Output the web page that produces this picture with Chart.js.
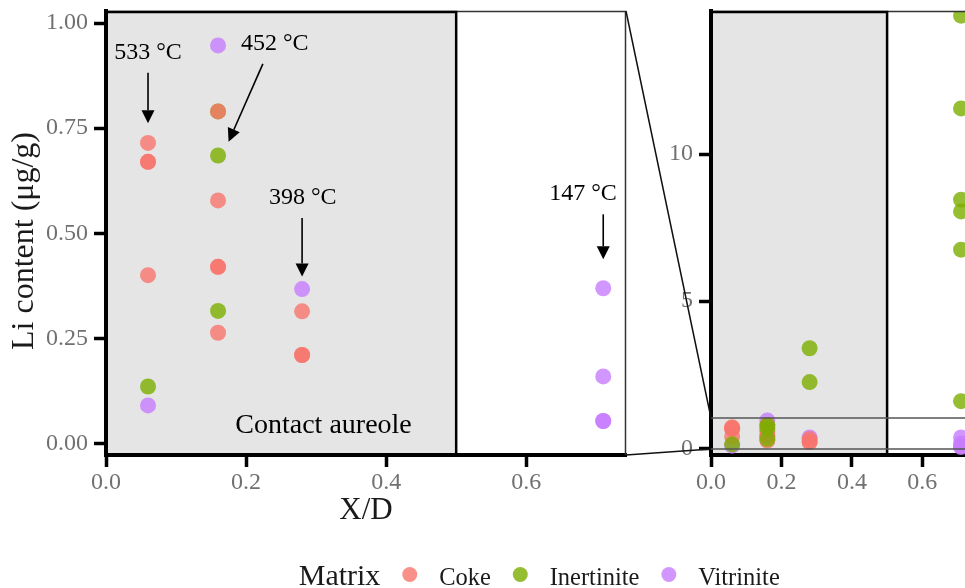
<!DOCTYPE html>
<html>
<head>
<meta charset="utf-8">
<script src="https://cdn.jsdelivr.net/npm/chart.js@4.4.1/dist/chart.umd.min.js"></script>
<style>
  html, body { margin: 0; padding: 0; background: #fff; overflow: hidden; }
  #wrap { position: relative; width: 965px; height: 588px; overflow: hidden; background: #fff; }
  #wrap canvas { position: absolute; left: 0; top: 0; }
</style>
</head>
<body>
<div id="wrap">
  <canvas id="main" width="965" height="588"></canvas>
  <canvas id="inset" width="1000" height="588"></canvas>
</div>
<script>
// ---- Li content by matrix type versus distance ratio X/D ----
const matrices = ['Coke', 'Inertinite', 'Vitrinite'];

const cokeX = [0.06, 0.06, 0.06, 0.06, 0.16, 0.16, 0.16, 0.16, 0.16, 0.28, 0.28, 0.28];
const cokeY = [0.715, 0.67, 0.67, 0.40, 0.79, 0.578, 0.42, 0.42, 0.263, 0.314, 0.21, 0.21];

const inertiniteX = [0.06, 0.16, 0.16, 0.16, 0.28, 0.28, 0.71, 0.71, 0.71, 0.71, 0.71, 0.71];
const inertiniteY = [0.135, 0.79, 0.685, 0.315, 3.4, 2.25, 14.7, 11.55, 8.45, 8.05, 6.75, 1.6];

const vitriniteX = [0.06, 0.16, 0.28, 0.71, 0.71, 0.71, 0.71];
const vitriniteY = [0.09, 0.947, 0.367, 0.369, 0.159, 0.053, 0.053];

// tick labels
const xTicks = [0, 0.2, 0.4, 0.6];
const mainYTicks = [0, 0.25, 0.5, 0.75, 1.0];
const insetYTicks = [0, 5, 10];

// axis ranges
const xRange = [0, 0.7425];
const mainYRange = [-0.028, 1.029];
const insetYRange = [-0.228, 14.86];

// contact aureole extends to X/D = 0.5
const aureoleEnd = 0.5;

// temperature call-outs (data units of the main panel)
const tempText  = ['533 °C', '452 °C', '398 °C', '147 °C'];
const tempTextX = [0.06, 0.241, 0.281, 0.681];
const tempTextY = [0.915, 0.936, 0.570, 0.579];
const tempFromX = [0.06, 0.224, 0.28, 0.71];
const tempFromY = [0.882, 0.903, 0.536, 0.545];
const tempToX   = [0.06, 0.175, 0.28, 0.71];
const tempToY   = [0.762, 0.718, 0.397, 0.438];

// ---- styling ----
const serif = "'Liberation Serif', 'Times New Roman', serif";
Chart.defaults.font.family = serif;
const fill = ['rgba(248,118,109,0.8)', 'rgba(124,174,0,0.8)', 'rgba(199,124,255,0.8)'];
const panelGrey = '#E5E5E5';
const tickGrey = '#707070';
const ink = '#1a1a1a';

const seriesX = [cokeX, inertiniteX, vitriniteX];
const seriesY = [cokeY, inertiniteY, vitriniteY];

function makeDatasets(order) {
  return matrices.map((name, i) => ({
    label: name,
    data: seriesX[i].map((x, k) => ({ x: x, y: seriesY[i][k] })),
    backgroundColor: fill[i],
    borderWidth: 0,
    pointRadius: 8,
    pointHoverRadius: 8,
    clip: 0,
    order: order[i]
  }));
}

function resetPad(s) {
  s.paddingLeft = 0; s.paddingRight = 0; s.paddingTop = 0; s.paddingBottom = 0;
}

function xScale(title) {
  return {
    type: 'linear', bounds: 'data', min: xRange[0], max: xRange[1],
    afterBuildTicks: s => { s.ticks = xTicks.map(v => ({ value: v })); },
    afterFit: s => { s.height = 133; resetPad(s); },
    ticks: { callback: v => Number(v).toFixed(1), font: { size: 24 }, color: tickGrey, padding: 1, autoSkip: false, maxRotation: 0 },
    grid: { display: true, drawOnChartArea: false, drawTicks: true, tickLength: 12, tickWidth: 3.5, tickColor: '#000' },
    border: { display: true, color: '#000', width: 4 },
    title: title
  };
}

function yScale(range, ticks, fmt, width) {
  return {
    type: 'linear', bounds: 'data', min: range[0], max: range[1],
    afterBuildTicks: s => { s.ticks = ticks.map(v => ({ value: v })); },
    afterFit: s => { s.width = width; resetPad(s); },
    ticks: { callback: fmt, font: { size: 24 }, color: tickGrey, padding: 6, autoSkip: false },
    grid: { display: true, drawOnChartArea: false, drawTicks: true, tickLength: 12, tickWidth: 3.5, tickColor: '#000' },
    border: { display: true, color: '#000', width: 4 }
  };
}

function shadeAureole(chart) {
  const { ctx, chartArea: a, scales } = chart;
  const xr = scales.x.getPixelForValue(aureoleEnd);
  ctx.save();
  ctx.fillStyle = panelGrey;
  ctx.fillRect(a.left, a.top, xr - a.left, a.bottom - a.top);
  ctx.restore();
}

function drawFrame(chart) {
  const { ctx, chartArea: a, scales } = chart;
  const xr = scales.x.getPixelForValue(aureoleEnd);
  ctx.save();
  // outer panel frame (top and right)
  ctx.strokeStyle = '#333';
  ctx.lineWidth = 1.5;
  ctx.beginPath();
  ctx.moveTo(a.left, a.top + 0.5); ctx.lineTo(a.right, a.top + 0.5);
  ctx.moveTo(a.right - 0.5, a.top); ctx.lineTo(a.right - 0.5, a.bottom);
  ctx.stroke();
  // aureole box outline
  ctx.strokeStyle = '#000';
  ctx.lineWidth = 2.5;
  ctx.beginPath();
  ctx.moveTo(a.left, a.top + 1); ctx.lineTo(xr, a.top + 1); ctx.lineTo(xr, a.bottom);
  ctx.stroke();
  ctx.restore();
}

function drawArrow(ctx, x1, y1, x2, y2) {
  const ang = Math.atan2(y2 - y1, x2 - x1);
  const len = 13, half = 6.5;
  const bx = x2 - len * Math.cos(ang), by = y2 - len * Math.sin(ang);
  ctx.beginPath(); ctx.moveTo(x1, y1); ctx.lineTo(bx, by); ctx.stroke();
  ctx.beginPath();
  ctx.moveTo(x2, y2);
  ctx.lineTo(bx + half * Math.sin(ang), by - half * Math.cos(ang));
  ctx.lineTo(bx - half * Math.sin(ang), by + half * Math.cos(ang));
  ctx.closePath(); ctx.fill();
}

// ---- main panel ----
const mainChart = new Chart(document.getElementById('main'), {
  type: 'scatter',
  data: { datasets: makeDatasets([0, 1, 2]) },
  options: {
    responsive: false, animation: false, devicePixelRatio: 1,
    layout: { padding: { left: 0, top: 11, right: 339, bottom: 0 } },
    plugins: { legend: { display: false }, tooltip: { enabled: false } },
    scales: {
      x: xScale({ display: true, text: 'X/D', font: { size: 31 }, color: ink, padding: { top: 0, bottom: 59 } }),
      y: yScale(mainYRange, mainYTicks, v => Number(v).toFixed(2), 106)
    }
  },
  plugins: [{
    id: 'mainDecor',
    beforeDraw: shadeAureole,
    afterDatasetsDraw(chart) {
      drawFrame(chart);
      const { ctx, scales } = chart;
      const px = v => scales.x.getPixelForValue(v);
      const py = v => scales.y.getPixelForValue(v);
      ctx.save();
      ctx.fillStyle = '#000';
      ctx.strokeStyle = '#000';
      ctx.lineWidth = 1.6;
      ctx.textAlign = 'center';
      ctx.textBaseline = 'alphabetic';
      ctx.font = '24px ' + serif;
      tempText.forEach((t, i) => {
        ctx.fillText(t, px(tempTextX[i]), py(tempTextY[i]));
        drawArrow(ctx, px(tempFromX[i]), py(tempFromY[i]), px(tempToX[i]), py(tempToY[i]));
      });
      ctx.font = '28px ' + serif;
      ctx.fillText('Contact aureole', px(0.3106), py(0.024));
      ctx.restore();
    },
    afterDraw(chart) {
      // y-axis title
      const { ctx } = chart;
      ctx.save();
      ctx.translate(25, 241);
      ctx.rotate(-Math.PI / 2);
      ctx.fillStyle = ink;
      ctx.textAlign = 'center';
      ctx.textBaseline = 'middle';
      ctx.font = '32px ' + serif;
      ctx.fillText('Li content (μg/g)', 0, 0);
      ctx.restore();
    }
  }]
});

// ---- full-range inset ----
new Chart(document.getElementById('inset'), {
  type: 'scatter',
  data: { datasets: makeDatasets([1, 0, 2]) },
  options: {
    responsive: false, animation: false, devicePixelRatio: 1,
    layout: { padding: { left: 0, top: 11, right: 27.5, bottom: 0 } },
    plugins: { legend: { display: false }, tooltip: { enabled: false } },
    scales: {
      x: xScale({ display: false }),
      y: yScale(insetYRange, insetYTicks, v => String(v), 711)
    }
  },
  plugins: [{
    id: 'insetDecor',
    beforeDraw: shadeAureole,
    afterDatasetsDraw(chart) {
      drawFrame(chart);
      const { ctx, chartArea: a, scales } = chart;
      const yTop = scales.y.getPixelForValue(mainYRange[1]);
      const yBot = scales.y.getPixelForValue(mainYRange[0]);
      ctx.save();
      ctx.strokeStyle = '#555';
      ctx.lineWidth = 1.5;
      ctx.beginPath();
      ctx.moveTo(a.left, yTop); ctx.lineTo(a.right, yTop);
      ctx.moveTo(a.left, yBot); ctx.lineTo(a.right, yBot);
      ctx.stroke();
      ctx.restore();
    },
    afterDraw(chart) {
      const { ctx, chartArea: a, scales } = chart;
      const m = mainChart.chartArea;
      const yTop = scales.y.getPixelForValue(mainYRange[1]);
      const yBot = scales.y.getPixelForValue(mainYRange[0]);
      ctx.save();
      // zoom connectors between the two panels
      ctx.strokeStyle = '#111';
      ctx.lineWidth = 1.5;
      ctx.beginPath();
      ctx.moveTo(m.right, m.top); ctx.lineTo(a.left, yTop);
      ctx.moveTo(m.right, m.bottom); ctx.lineTo(a.left, yBot);
      ctx.stroke();

      // legend, centred under both panels
      const gap = 29.4;
      ctx.textBaseline = 'alphabetic';
      ctx.textAlign = 'left';
      ctx.font = '30px ' + serif;
      const wTitle = ctx.measureText('Matrix').width;
      ctx.font = '24.5px ' + serif;
      const wItems = matrices.map(t => ctx.measureText(t).width);
      const total = wTitle + wItems.reduce((s, w) => s + 2 * gap + w, 0);
      let x = (m.left + a.right) / 2 - total / 2;
      const base = 585, dotY = 574.5;
      ctx.fillStyle = ink;
      ctx.font = '30px ' + serif;
      ctx.fillText('Matrix', x, base);
      x += wTitle;
      matrices.forEach((t, i) => {
        x += gap;
        ctx.fillStyle = fill[i];
        ctx.beginPath(); ctx.arc(x, dotY, 7.5, 0, Math.PI * 2); ctx.fill();
        x += gap;
        ctx.fillStyle = ink;
        ctx.font = '24.5px ' + serif;
        ctx.fillText(t, x, base);
        x += wItems[i];
      });
      ctx.restore();
    }
  }]
});
</script>
</body>
</html>
